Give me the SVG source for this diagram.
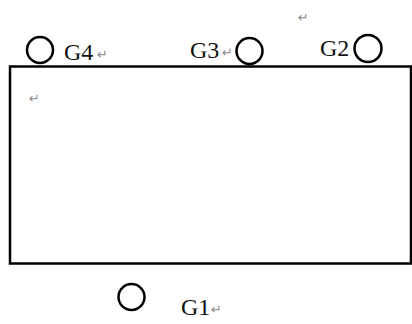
<svg xmlns="http://www.w3.org/2000/svg" width="412" height="324" viewBox="0 0 412 324">
<style>
.c{fill:none;stroke:#000;stroke-width:2.5}
.t{font-family:"Liberation Serif",serif;font-size:24px;fill:#111}
.r{font-family:"DejaVu Sans",sans-serif;font-size:13px;fill:#888}
</style>
<rect width="412" height="324" fill="#fff"/>
<g id="board"><rect x="10" y="66.5" width="401" height="197" fill="none" stroke="#000" stroke-width="2.5"/></g>
<g id="G4"><circle class="c" cx="40" cy="50" r="13"/><text class="t" x="64" y="60">G4</text><text class="r" x="97" y="59">↵</text></g>
<g id="G3"><text class="t" x="190" y="58">G3</text><text class="r" x="222" y="57">↵</text><circle class="c" cx="249.5" cy="51" r="13"/></g>
<g id="G2"><text class="t" x="320" y="56">G2</text><circle class="c" cx="368" cy="48.5" r="13.5"/></g>
<g id="G1"><circle class="c" cx="131.5" cy="297" r="13"/><text class="t" x="181" y="315">G1</text><text class="r" x="211" y="314">↵</text></g>
<g id="marks"><text class="r" x="298" y="22">↵</text><text class="r" x="29" y="103">↵</text></g>
</svg>
